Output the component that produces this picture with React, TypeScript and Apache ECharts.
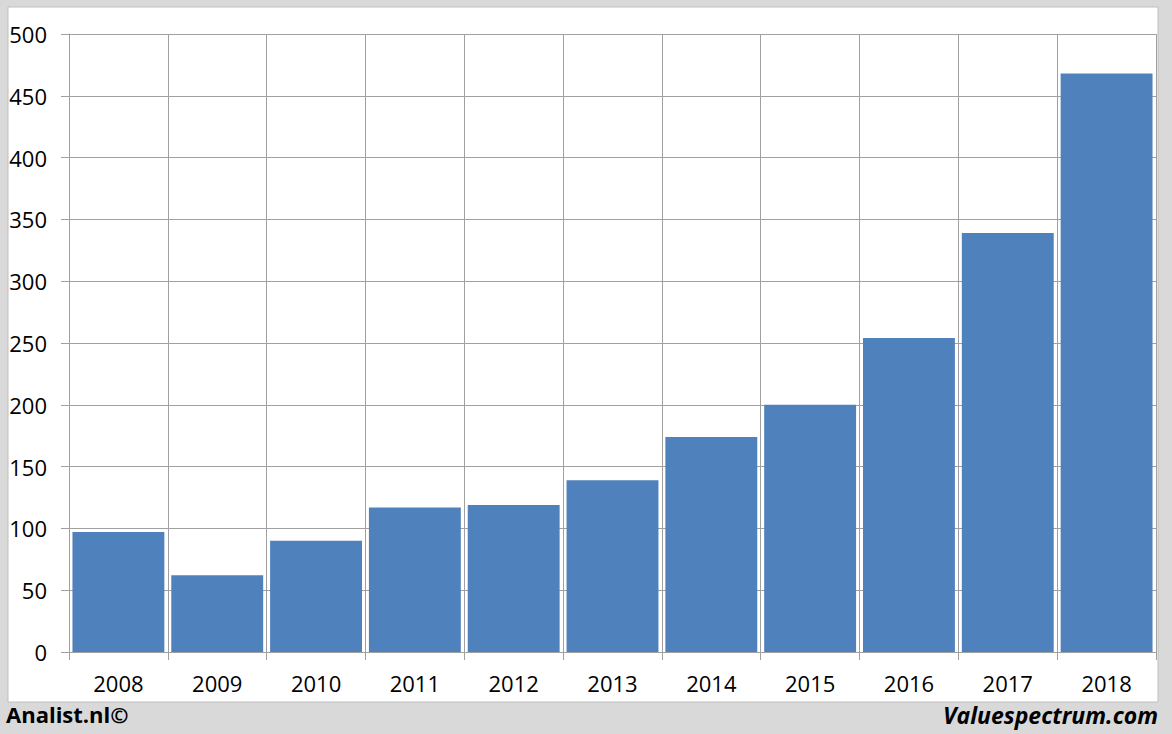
import React, { useEffect, useRef } from "react";
import * as echarts from "echarts";

const years = ["2008", "2009", "2010", "2011", "2012", "2013", "2014", "2015", "2016", "2017", "2018"];
const values = [97, 62, 90, 117, 119, 139, 174, 200, 254, 339, 468];
const yTicks = { min: 0, max: 500, interval: 50 };

export default function App() {
  const ref = useRef<HTMLDivElement>(null);
  useEffect(() => {
    if (!ref.current) return;
    const chart = echarts.init(ref.current, undefined, { renderer: "svg" });
    const font = "'Open Sans', 'Liberation Sans', sans-serif";
    chart.setOption({
      animation: false,
      backgroundColor: "#d9d9d9",
      graphic: [
        {
          type: "rect",
          shape: { x: 8, y: 7, width: 1150, height: 695 },
          style: { fill: "#ffffff", stroke: "#bfbfbf", lineWidth: 1 },
          z: -10,
        },
        {
          type: "text",
          left: 6,
          top: 703,
          style: { text: "Analist.nl©", font: `bold 22px ${font}`, fill: "#000" },
        },
        {
          type: "text",
          right: 14,
          top: 703,
          style: { text: "Valuespectrum.com", font: `italic bold 23px ${font}`, fill: "#000" },
        },
      ],
      grid: { left: 69, right: 16, top: 34, bottom: 82 },
      xAxis: {
        type: "category",
        data: years,
        boundaryGap: true,
        axisLine: { show: true, lineStyle: { color: "#a0a0a0" } },
        axisTick: { show: true, length: 8, lineStyle: { color: "#a0a0a0" } },
        axisLabel: { color: "#000", fontSize: 22, fontFamily: font, margin: 20 },
        splitLine: { show: true, lineStyle: { color: "#a0a0a0", width: 1 } },
      },
      yAxis: {
        type: "value",
        min: yTicks.min,
        max: yTicks.max,
        interval: yTicks.interval,
        axisLine: { show: true, lineStyle: { color: "#a0a0a0" } },
        axisTick: { show: true, length: 8, lineStyle: { color: "#a0a0a0" } },
        axisLabel: { color: "#000", fontSize: 22, fontFamily: font, margin: 22 },
        splitLine: { show: true, lineStyle: { color: "#a0a0a0", width: 1 } },
      },
      series: [
        {
          type: "bar",
          data: values,
          barCategoryGap: "7%",
          itemStyle: { color: "#4f81bd" },
        },
      ],
    });
    return () => chart.dispose();
  }, []);
  return (
    <div
      ref={ref}
      style={{ position: "fixed", left: 0, top: 0, width: 1172, height: 734 }}
    />
  );
}
